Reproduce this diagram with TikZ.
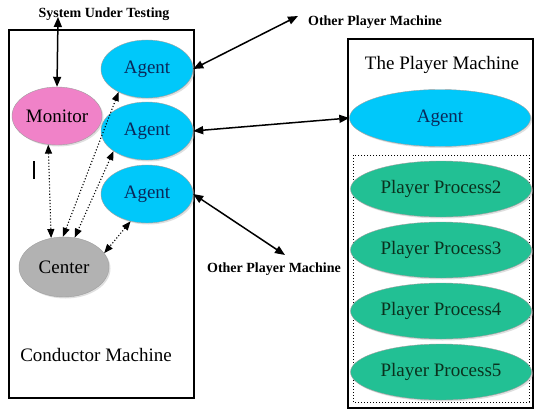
\documentclass[tikz,border=0pt]{standalone}
\usepackage{fontspec}
\setmainfont{Liberation Serif}
\usetikzlibrary{shapes.geometric, arrows.meta, shadows}
\definecolor{agentcyan}{RGB}{0, 200, 250}
\definecolor{monpink}{RGB}{240, 130, 200}
\definecolor{centgray}{RGB}{178, 178, 178}
\definecolor{procgreen}{RGB}{34, 192, 148}
\tikzset{
  procnode/.style={ellipse, draw=gray!75, inner sep=0pt, font=\fontsize{19}{22}\selectfont,
    drop shadow={shadow xshift=1.5pt, shadow yshift=-1.5pt, fill=gray!50}},
  agentnode/.style={procnode, fill=agentcyan, text={rgb,255:red,10;green,40;blue,90}, minimum width=92pt, minimum height=58pt},
  monnode/.style={procnode, fill=monpink, minimum width=90pt, minimum height=58pt},
  centnode/.style={procnode, fill=centgray, minimum width=90pt, minimum height=60pt},
  playnode/.style={procnode, fill=procgreen, text={rgb,255:red,10;green,50;blue,30}, minimum width=181pt, minimum height=56pt},
  machbox/.style={draw, line width=1.8pt},
  tagtext/.style={font=\fontsize{14}{16}\selectfont\bfseries},
  boxtitle/.style={font=\fontsize{19}{22}\selectfont},
  sarrow/.style={{Triangle[length=10pt,width=8pt]}-{Triangle[length=10pt,width=8pt]}, line width=1.5pt},
  darrow/.style={{Triangle[length=9pt,width=7pt]}-{Triangle[length=9pt,width=7pt]}, line width=1.1pt, dotted},
}
\begin{document}
\begin{tikzpicture}[x=1pt, y=-1pt]
  \useasboundingbox (0,0) rectangle (540,412);
  % machines
  \draw[machbox] (9,30) rectangle (194,398);
  \draw[machbox] (348,39) rectangle (533,408);
  \draw[dotted, line width=1pt] (353,155) rectangle (529,402);
  \node[boxtitle] (cmlabel) at (96,355) {Conductor Machine};
  \node[boxtitle] (pmlabel) at (442,65) {The Player Machine};

  % conductor side
  \node[monnode] (mon) at (57,116) {Monitor};
  \node[agentnode] (ag1) at (147,69) {Agent};
  \node[agentnode] (ag2) at (147,131) {Agent};
  \node[agentnode] (ag3) at (147,194) {Agent};
  \node[centnode] (cen) at (64,267) {Center};

  % player side
  \node[agentnode, minimum width=181pt, minimum height=57pt] (pag) at (440,118) {Agent};
  \node[playnode] (pp2) at (441,189) {Player Process2};
  \node[playnode] (pp3) at (441,250) {Player Process3};
  \node[playnode] (pp4) at (441,311) {Player Process4};
  \node[playnode] (pp5) at (441,372) {Player Process5};

  % outside labels
  \node[tagtext] (sut) at (104,14) {System Under Testing};
  \node[tagtext] (opm1) at (375,22) {Other Player Machine};
  \node[tagtext] (opm2) at (274,269) {Other Player Machine};
  \coordinate (sutend) at (58,17);
  \coordinate (opm1end) at (298,16);
  \coordinate (opm2end) at (285,255);

  % links
  \draw[sarrow] (sutend) -- (mon.north);
  \draw[sarrow] (ag1.east) -- (opm1end);
  \draw[sarrow] (ag2.east) -- (pag.west);
  \draw[sarrow] (ag3.east) -- (opm2end);
  \draw[darrow] (mon.253) -- (cen.114);
  \draw[darrow] (ag1.219) -- (cen.92);
  \draw[darrow] (ag2.211) -- (cen.70);
  \draw[darrow] (ag3.239) -- (cen.19);

  \draw[line width=1.4pt] (34,161) -- (34,179);
\end{tikzpicture}
\end{document}
